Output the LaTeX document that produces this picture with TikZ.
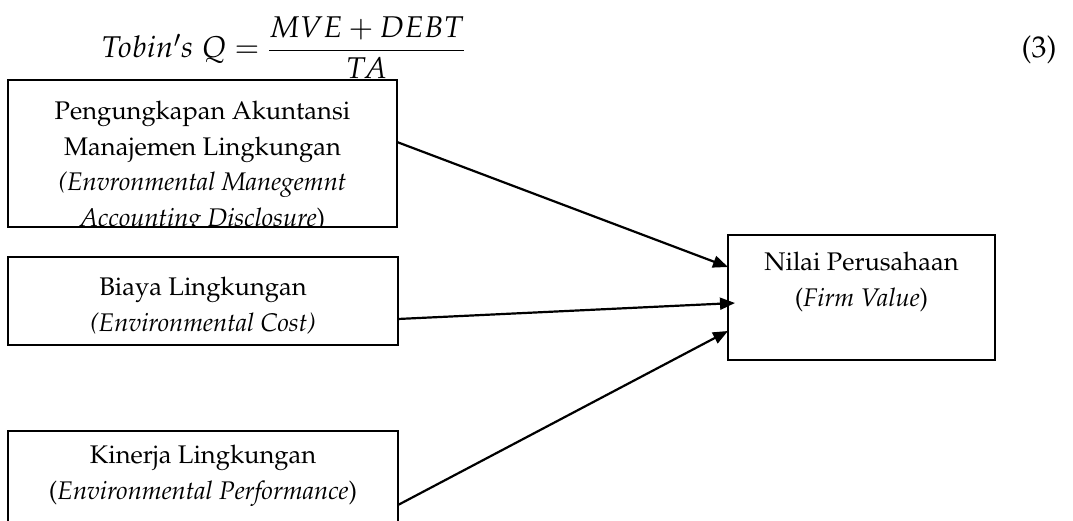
\documentclass[tikz,border=0pt]{standalone}
\usepackage[T1]{fontenc}
\usepackage{mathpazo}
\usepackage{amsmath}
\usetikzlibrary{arrows.meta}

\begin{document}
\begin{tikzpicture}[x=1pt,y=-1pt,
    kotak/.style={draw,line width=2.4pt,fill=white,inner sep=0pt,outer sep=0pt},
    isi/.style={anchor=north,align=center,inner sep=0pt,font=\fontsize{25.5}{35.5}\selectfont},
    panah/.style={line width=2.2pt,-{Triangle[length=15pt,width=12pt]}}]
        \useasboundingbox (0,0) rectangle (1073,521);
        \clip (0,0) rectangle (1073,521);

        \node[anchor=base,inner sep=0pt,font=\fontsize{30}{36}\selectfont] (rumus) at (283,58) {$Tobin's\;Q=\dfrac{MVE+DEBT}{TA}$};
        \node[anchor=base,inner sep=0pt,font=\fontsize{30}{36}\selectfont] (nomor) at (1039,58) {(3)};

        \node[kotak,minimum width=389pt,minimum height=147pt] (pak) at (202.5,153.5) {};
        \node[kotak,minimum width=390pt,minimum height=88pt] (biaya) at (203,301) {};
        \node[kotak,minimum width=390pt,minimum height=110pt] (kinerja) at (203,486) {};
        \node[kotak,minimum width=267pt,minimum height=125pt] (nilai) at (861.5,297.5) {};

        \begin{scope}
          \clip (pak.south west) rectangle (pak.north east);
          \node[isi] (pakteks) at ([yshift=-21pt]pak.north) {Pengungkapan Akuntansi\\Manajemen Lingkungan\\\textit{(Envronmental Manegemnt}\\\textit{Accounting Disclosure})};
        \end{scope}
        \draw[line width=2.4pt] (pak.south west) rectangle (pak.north east);
        \node[isi] (biayateks) at ([yshift=-20pt]biaya.north) {Biaya Lingkungan\\\textit{(Environmental Cost)}};
        \node[isi] (kinerjateks) at ([yshift=-14pt]kinerja.north) {Kinerja Lingkungan\\(\textit{Environmental Performance})};
        \node[isi] (nilaiteks) at ([yshift=-17pt]nilai.north) {Nilai Perusahaan\\(\textit{Firm Value})};

        \draw[panah] ([yshift=-62pt]pak.north east)--([yshift=30.5pt]nilai.west);
        \draw[panah] ([yshift=-18pt]biaya.east)--([xshift=7pt,yshift=-5.5pt]nilai.west);
        \draw[panah] ([yshift=-74pt]kinerja.north east)--([yshift=-33.5pt]nilai.west);
      \end{tikzpicture}
\end{document}
